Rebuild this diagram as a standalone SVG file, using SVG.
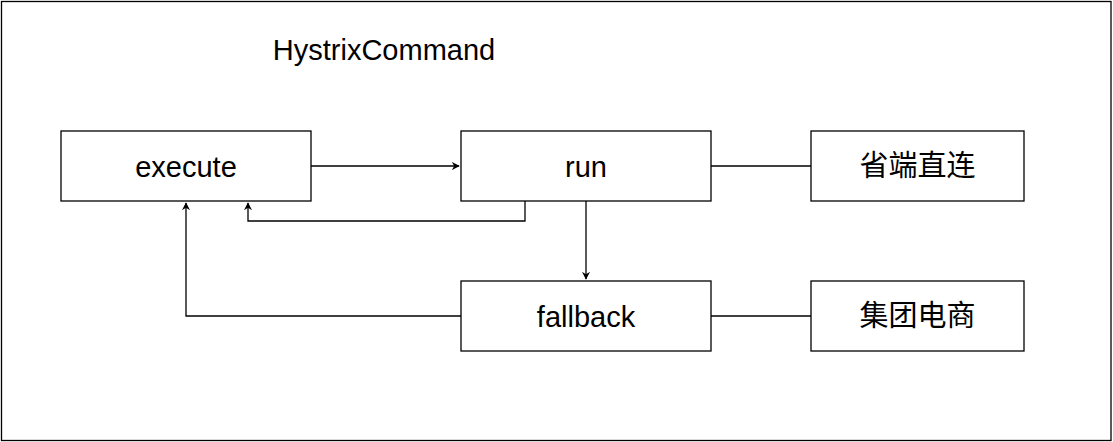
<svg xmlns="http://www.w3.org/2000/svg" width="1113" height="442" viewBox="0 0 1113 442">
<style>
.box{fill:#fff;stroke:#000;stroke-width:1.3}
.lbl{font-family:"Liberation Sans","Noto Sans CJK SC",sans-serif;font-size:29px;fill:#000;text-anchor:middle}
.ln{fill:none;stroke:#000;stroke-width:1.3}
</style>
<defs>
<marker id="ah" viewBox="0 0 10 10" refX="9" refY="5" markerWidth="8" markerHeight="8" markerUnits="userSpaceOnUse" orient="auto">
<path d="M0,0 L10,5 L0,10 L3,5 Z" fill="#000"/>
</marker>
</defs>
<rect x="0" y="0" width="1113" height="442" fill="#fff"/>
<g id="frame"><rect x="1.5" y="1.5" width="1109.5" height="439" fill="none" stroke="#000" stroke-width="1.3"/>
<text class="lbl" x="384" y="60" font-size="28">HystrixCommand</text></g>
<g id="connectors">
<path class="ln" d="M311,166 H459" marker-end="url(#ah)"/>
<path class="ln" d="M525,201 V221 H248 V203" marker-end="url(#ah)"/>
<path class="ln" d="M461,316 H186 V203" marker-end="url(#ah)"/>
<path class="ln" d="M586,201 V279" marker-end="url(#ah)"/>
<path class="ln" d="M711,166 H811"/>
<path class="ln" d="M711,316 H811"/>
</g>
<g id="execute"><rect class="box" x="61" y="131" width="250" height="70"/><text class="lbl" x="186" y="177">execute</text></g>
<g id="run"><rect class="box" x="461" y="131" width="250" height="70"/><text class="lbl" x="586" y="177">run</text></g>
<g id="fallback"><rect class="box" x="461" y="281" width="250" height="70"/><text class="lbl" x="586" y="327">fallback</text></g>
<g id="shengduan"><rect class="box" x="811" y="131" width="213" height="70"/><text class="lbl" x="917.5" y="176">省端直连</text></g>
<g id="jituan"><rect class="box" x="811" y="281" width="213" height="70"/><text class="lbl" x="917.5" y="326">集团电商</text></g>
</svg>
